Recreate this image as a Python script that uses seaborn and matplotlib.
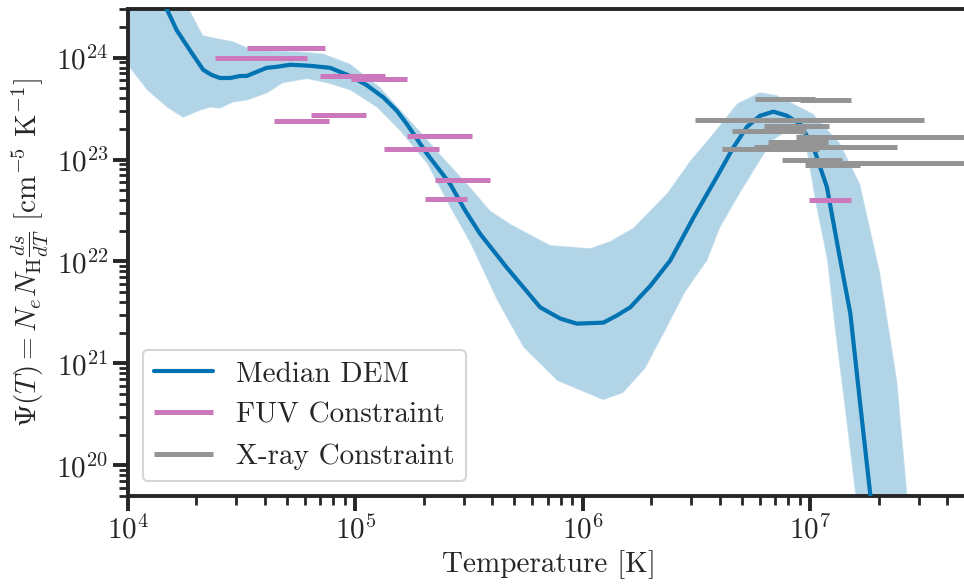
import numpy as np
import pandas as pd
import matplotlib
matplotlib.use("Agg")
import matplotlib.pyplot as plt
import seaborn as sns

# Median differential emission measure, log10 T [K] vs log10 Psi [cm^-5 K^-1]
med_log_temp = [4.000, 4.097, 4.172, 4.214, 4.273, 4.331, 4.368, 4.405, 4.449, 4.493,
                4.522, 4.566, 4.610, 4.654, 4.713, 4.801, 4.889, 4.977, 5.050, 5.123,
                5.182, 5.226, 5.314, 5.417, 5.483, 5.549, 5.666, 5.813, 5.901, 5.974,
                6.091, 6.150, 6.209, 6.297, 6.385, 6.487, 6.590, 6.663, 6.722, 6.780,
                6.839, 6.898, 6.956, 7.015, 7.074, 7.133, 7.177, 7.220, 7.264, 7.308]
med_log_psi = [24.98, 24.66, 24.47, 24.27, 24.07, 23.88, 23.83, 23.80, 23.80, 23.82,
               23.82, 23.86, 23.90, 23.91, 23.93, 23.92, 23.90, 23.82, 23.73, 23.61,
               23.48, 23.35, 23.06, 22.76, 22.50, 22.27, 21.94, 21.55, 21.44, 21.39,
               21.40, 21.47, 21.55, 21.76, 22.01, 22.43, 22.83, 23.12, 23.32, 23.43,
               23.47, 23.43, 23.35, 23.12, 22.73, 22.01, 21.49, 20.61, 19.73, 18.77]

# Upper (84th percentile) edge of the DEM envelope
up_log_temp = [4.000, 4.229, 4.273, 4.330, 4.392, 4.462, 4.524, 4.612, 4.757, 4.858,
               4.977, 5.109, 5.271, 5.386, 5.505, 5.593, 5.681, 5.857, 6.033, 6.121,
               6.222, 6.371, 6.473, 6.561, 6.679, 6.780, 6.855, 7.013, 7.132, 7.220,
               7.308, 7.383, 7.427, 7.484]
up_log_psi = [24.75, 24.61, 24.46, 24.22, 24.19, 24.16, 24.10, 24.07, 24.06, 24.04,
              23.94, 23.71, 23.31, 23.02, 22.73, 22.50, 22.37, 22.16, 22.13, 22.20,
              22.33, 22.67, 22.99, 23.22, 23.55, 23.66, 23.63, 23.45, 23.16, 22.76,
              21.89, 20.83, 19.73, 18.28]

# Lower (16th percentile) edge of the DEM envelope
lo_log_temp = [4.000, 4.084, 4.172, 4.242, 4.317, 4.361, 4.405, 4.462, 4.524, 4.612,
               4.682, 4.788, 4.875, 4.977, 5.095, 5.197, 5.315, 5.417, 5.505, 5.623,
               5.738, 5.887, 6.090, 6.178, 6.275, 6.363, 6.451, 6.548, 6.604, 6.692,
               6.780, 6.838, 6.899, 6.956, 6.987, 7.022, 7.075, 7.110, 7.154, 7.198,
               7.242]
lo_log_psi = [23.92, 23.68, 23.51, 23.41, 23.48, 23.51, 23.50, 23.56, 23.58, 23.65,
              23.75, 23.79, 23.75, 23.68, 23.51, 23.28, 22.96, 22.53, 22.18, 21.62,
              21.16, 20.83, 20.64, 20.71, 20.95, 21.32, 21.70, 22.01, 22.33, 22.67,
              22.99, 23.19, 23.28, 23.24, 23.06, 22.60, 22.01, 21.32, 20.54, 19.73,
              18.77]

# FUV line constraints: temperature range [K] and level
fuv_tmin = [3.33e4, 2.41e4, 6.98e4, 9.60e4, 6.38e4, 4.39e4, 1.68e5, 1.34e5, 2.24e5, 2.02e5, 9.91e6]
fuv_tmax = [7.38e4, 6.10e4, 1.35e5, 1.68e5, 1.11e5, 7.66e4, 3.26e5, 2.33e5, 3.92e5, 3.10e5, 1.52e7]
fuv_level = [1.24e24, 9.9e23, 6.6e23, 6.2e23, 2.75e23, 2.4e23, 1.7e23, 1.26e23, 6.3e22, 4.12e22, 4.03e22]

# X-ray constraints: temperature range [K] and level
xray_tmin = [5.73e6, 9.04e6, 3.12e6, 6.28e6, 4.54e6, 8.67e6, 6.55e6, 4.10e6, 5.68e6, 7.53e6, 9.51e6, 1.38e7]
xray_tmax = [1.05e7, 1.52e7, 3.18e7, 1.21e7, 9.62e6, 6.3e7, 1.20e7, 1.10e7, 2.42e7, 1.38e7, 1.66e7, 6.3e7]
xray_level = [3.94e23, 3.85e23, 2.47e23, 2.15e23, 1.92e23, 1.68e23, 1.49e23, 1.28e23, 1.34e23, 1.0e23, 8.9e22, 9.3e22]

sns.set_theme(style="ticks", palette="colorblind")
plt.rcParams.update({
    "font.family": ["cmr10", "DejaVu Serif"],
    "mathtext.fontset": "cm",
    "axes.formatter.use_mathtext": True,
    "axes.unicode_minus": False,
    "font.size": 21,
    "axes.labelsize": 21,
    "xtick.labelsize": 21,
    "ytick.labelsize": 21,
    "legend.fontsize": 21,
    "axes.linewidth": 2.8,
    "xtick.major.width": 2.8, "ytick.major.width": 2.8,
    "xtick.minor.width": 2.0, "ytick.minor.width": 2.0,
    "xtick.major.size": 10.5, "ytick.major.size": 10.5,
    "xtick.minor.size": 6.5, "ytick.minor.size": 6.5,
})

pal = sns.color_palette("colorblind")
blue, pink, grey = pal[0], pal[4], pal[7]

median = pd.DataFrame({"T": 10 ** np.asarray(med_log_temp),
                       "psi": 10 ** np.asarray(med_log_psi)})

# Envelope outline: along the upper edge, then back along the lower edge
env_T = 10 ** np.concatenate([up_log_temp, lo_log_temp[::-1]])
env_psi = 10 ** np.concatenate([up_log_psi, lo_log_psi[::-1]])

fig = plt.figure(figsize=(9.64, 5.85), dpi=100)
ax = fig.add_axes([128 / 964, 89 / 585, 841 / 964, 487 / 585])
ax.set_xscale("log")
ax.set_yscale("log")

ax.fill(env_T, env_psi, facecolor=blue, alpha=0.3,
        edgecolor=(1, 1, 1, 0.5), linewidth=1.0, zorder=1)
sns.lineplot(data=median, x="T", y="psi", color=blue, linewidth=3.0,
             label="Median DEM", ax=ax, zorder=3)

ax.hlines(fuv_level, fuv_tmin, fuv_tmax, colors=[pink], linewidth=3.6,
          label="FUV Constraint", zorder=4)
ax.hlines(xray_level, xray_tmin, xray_tmax, colors=[grey], linewidth=3.6,
          label="X-ray Constraint", zorder=4)

ax.set_xlim(1e4, 5e7)
ax.set_ylim(5e19, 3e24)
ax.set_xlabel("Temperature [K]")
ax.set_ylabel(r"$\Psi(T) = N_e N_{\rm H}\frac{ds}{dT}$ [cm$^{-5}$ K$^{-1}$]")

leg = ax.legend(loc="lower left", frameon=True, fancybox=True, handlelength=2.0)
leg.get_frame().set_edgecolor("0.8")
leg.get_frame().set_linewidth(1.5)

fig.savefig("out.png", dpi=100)
